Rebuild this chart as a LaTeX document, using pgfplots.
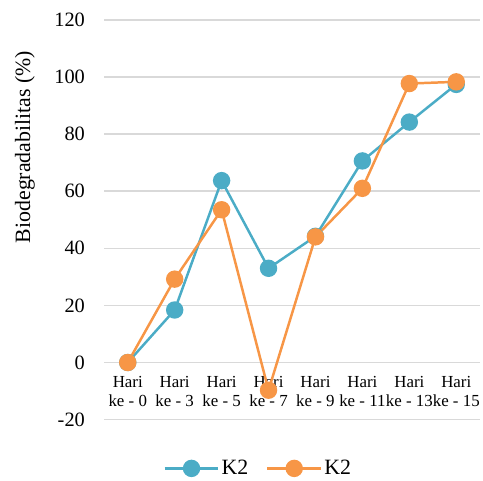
\documentclass[border=0pt]{standalone}
\usepackage{pgfplots}
\pgfplotsset{compat=1.18}
\usepackage{fontspec}
\setmainfont{Liberation Serif}
\definecolor{cblue}{HTML}{4BACC6}
\definecolor{corange}{HTML}{F79646}
\definecolor{gridc}{HTML}{D9D9D9}
\begin{document}
\begin{tikzpicture}
\begin{axis}[
 scale only axis, width=378pt, height=402.5pt,
 xmin=-0.5, xmax=7.5, ymin=-20, ymax=120,
 enlargelimits=false,
 xtick={0,1,2,3,4,5,6,7},
 xticklabels={{Hari\\ke - 0},{Hari\\ke - 3},{Hari\\ke - 5},{Hari\\ke - 7},{Hari\\ke - 9},{Hari\\ke - 11},{Hari\\ke - 13},{Hari\\ke - 15}},
 ytick={-20,0,20,40,60,80,100,120},
 yticklabels={-20,0,20,40,60,80,100,120},
 ymajorgrids, grid style={gridc, line width=1.5pt},
 axis line style={draw=none}, major tick length=0pt, tick style={draw=none},
 yticklabel style={font=\fontsize{20.5}{24}\selectfont, xshift=-16pt},
 xticklabel style={font=\fontsize{17}{18.5}\selectfont, align=center, yshift=47pt},
 ylabel={Biodegradabilitas (\%)},
 every axis y label/.style={at={(rel axis cs:-0.2116,0.682)}, rotate=90, anchor=center, font=\fontsize{22}{26}\selectfont},
 clip=false,
 legend columns=2,
 legend style={at={(rel axis cs:0.41,-0.122)}, anchor=center, draw=none, fill=none, font=\fontsize{22}{26}\selectfont,
   /tikz/every odd column/.append style={column sep=0pt},
   /tikz/every even column/.append style={column sep=16pt}},
 legend image code/.code={\draw[mark repeat=2,mark phase=2] plot coordinates {(0pt,0pt) (27pt,0pt) (54pt,0pt)};},
]
\addplot[cblue, line width=2.5pt, mark=*, mark size=7.5pt, mark options={solid, fill=cblue, draw=none}]
 coordinates {(0,0) (1,18.4) (2,63.7) (3,33.0) (4,44.2) (5,70.6) (6,84.2) (7,97.4)};
\addlegendentry{K2}
\addplot[corange, line width=2.5pt, mark=*, mark size=7.5pt, mark options={solid, fill=corange, draw=none}]
 coordinates {(0,0) (1,29.2) (2,53.5) (3,-9.7) (4,44.0) (5,61.0) (6,97.7) (7,98.3)};
\addlegendentry{K2}
\path[draw=none] (rel axis cs:-0.2778,1.0497) rectangle (rel axis cs:1.0,-0.1404);
\end{axis}
\end{tikzpicture}
\end{document}
